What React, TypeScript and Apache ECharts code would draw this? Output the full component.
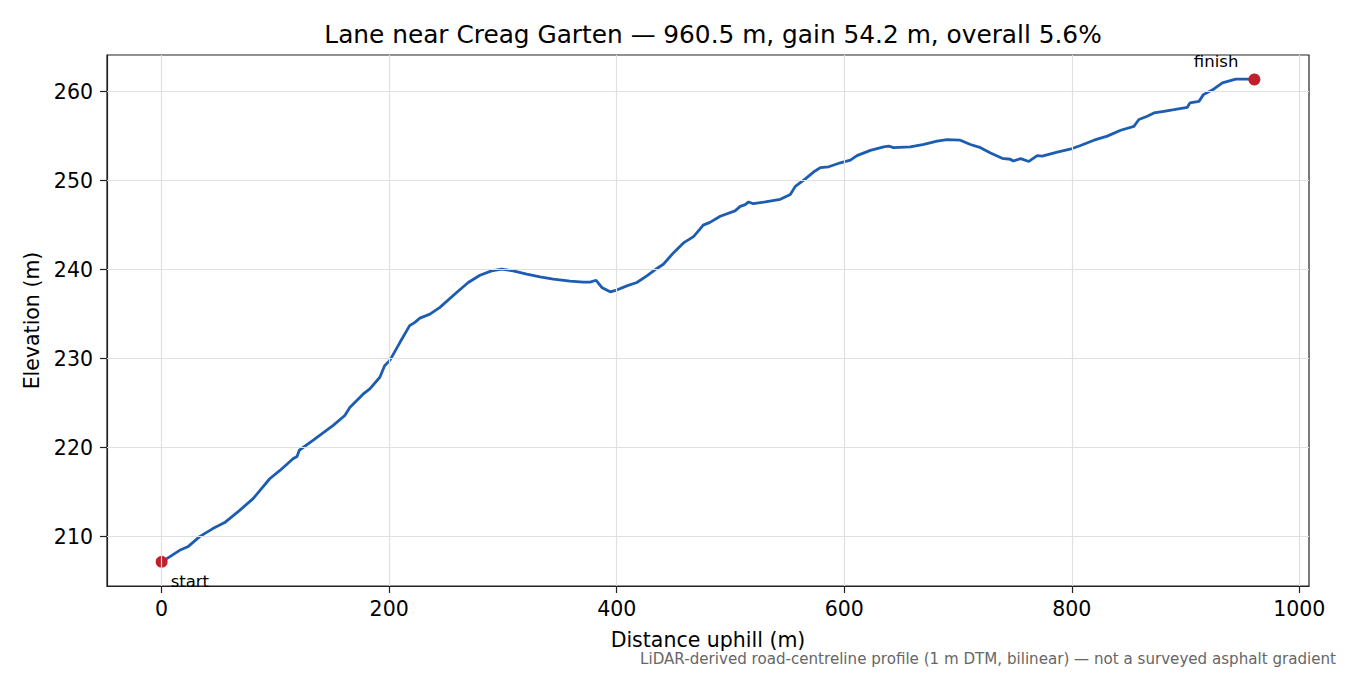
import React, { useEffect, useRef } from "react";
import * as echarts from "echarts";

const distances = [
  0, 8, 15.8, 23, 33.4, 45, 55.4, 68.6, 80.4, 95, 104, 115.5, 119, 121, 133, 150.8, 161, 165.4, 177, 183,
  191.8, 196, 200.6, 209.4, 218, 222.6, 227, 235.8, 244.6, 259.3, 269.5, 279.8, 290, 298.9, 309, 320.9,
  332.6, 344.3, 359, 370.7, 376.6, 381.9, 386.9, 394.2, 400, 408.9, 417.7, 426.5, 435, 441, 450, 458.7,
  467.5, 472.8, 476, 482, 491, 504, 508.6, 513, 516, 520, 530.6, 543.8, 552.6, 557, 565.8, 573, 579,
  586.3, 596.6, 605.4, 611.2, 623, 634.7, 639, 643.5, 658, 670, 681.6, 690.4, 702, 710.9, 719.8, 728.6,
  738.8, 746, 748.5, 755, 762.3, 769.6, 774, 787.2, 800.4, 807.7, 819.5, 831.2, 843, 854.6, 859, 866.4,
  872.2, 881, 889.8, 901.6, 903.9, 911.8, 915.7, 925, 932.4, 944.1, 954.4, 960.5,
];

const elevations = [
  207.16, 207.8, 208.46, 208.85, 210.0, 210.9, 211.57, 212.95, 214.26, 216.5, 217.43, 218.74, 219.0, 219.7,
  220.8, 222.5, 223.6, 224.5, 226.0, 226.6, 227.9, 229.2, 229.8, 231.8, 233.7, 234.07, 234.55, 235.0,
  235.75, 237.43, 238.55, 239.37, 239.86, 240.04, 239.86, 239.48, 239.18, 238.92, 238.7, 238.6, 238.6,
  238.8, 238.0, 237.5, 237.7, 238.17, 238.55, 239.3, 240.1, 240.6, 241.9, 243.0, 243.7, 244.5, 245.0,
  245.3, 246.0, 246.6, 247.1, 247.3, 247.6, 247.4, 247.6, 247.9, 248.45, 249.35, 250.2, 250.96, 251.45,
  251.55, 252.0, 252.3, 252.8, 253.4, 253.8, 253.87, 253.7, 253.8, 254.06, 254.43, 254.6, 254.54, 254.06,
  253.7, 253.1, 252.5, 252.4, 252.2, 252.46, 252.15, 252.8, 252.75, 253.2, 253.6, 253.95, 254.54, 255.0,
  255.66, 256.1, 256.86, 257.23, 257.6, 257.79, 257.98, 258.24, 258.73, 258.9, 259.66, 260.3, 260.97,
  261.4, 261.4, 261.36,
];

const xTicks = [0, 200, 400, 600, 800, 1000];
const yTicks = [210, 220, 230, 240, 250, 260];

const titleText = "Lane near Creag Garten — 960.5 m, gain 54.2 m, overall 5.6%";
const footnote = "LiDAR-derived road-centreline profile (1 m DTM, bilinear) — not a surveyed asphalt gradient";

const FONT = "DejaVu Sans";

export default function App() {
  const ref = useRef<HTMLDivElement>(null);

  useEffect(() => {
    document.body.style.margin = "0";
    const chart = echarts.init(ref.current!, null, { renderer: "svg" });
    const n = distances.length;
    const xMin = distances[0], xMax = distances[n - 1];
    const eMin = Math.min(...elevations), eMax = Math.max(...elevations);
    const xPad = (xMax - xMin) * 0.05;
    const yPad = (eMax - eMin) * 0.05;
    const lineData = distances.map((d, i) => [d, elevations[i]]);

    chart.setOption({
      animation: false,
      backgroundColor: "#ffffff",
      textStyle: { fontFamily: FONT },
      title: {
        text: titleText,
        left: 708,
        textAlign: "center",
        top: 17,
        textStyle: { fontFamily: FONT, fontSize: 24.8, fontWeight: "normal", color: "#000" },
      },
      grid: {
        left: 107,
        right: 41,
        top: 55,
        bottom: 89,
        show: true,
        borderColor: "#222",
        borderWidth: 1.2,
        backgroundColor: "transparent",
      },
      xAxis: {
        type: "value",
        min: xMin - xPad,
        max: xMax + xPad,
        name: "Distance uphill (m)",
        nameLocation: "middle",
        nameGap: 43,
        nameTextStyle: { fontFamily: FONT, fontSize: 20.5, color: "#000" },
        axisLine: { show: true, onZero: false, lineStyle: { color: "#222", width: 1.2 } },
        axisTick: { show: true, length: 7, customValues: xTicks, lineStyle: { color: "#222", width: 1.2 } },
        axisLabel: {
          customValues: xTicks,
          margin: 12,
          fontFamily: FONT,
          fontSize: 20.5,
          color: "#000",
          formatter: (v: number) => String(v),
        },
        splitLine: { show: false },
      },
      yAxis: {
        type: "value",
        min: eMin - yPad,
        max: eMax + yPad,
        name: "Elevation (m)",
        nameLocation: "middle",
        nameGap: 62,
        nameRotate: 90,
        nameTextStyle: { fontFamily: FONT, fontSize: 20.5, color: "#000" },
        axisLine: { show: true, onZero: false, lineStyle: { color: "#222", width: 1.2 } },
        axisTick: { show: true, length: 7, customValues: yTicks, lineStyle: { color: "#222", width: 1.2 } },
        axisLabel: {
          customValues: yTicks,
          margin: 14,
          fontFamily: FONT,
          fontSize: 20.5,
          color: "#000",
          formatter: (v: number) => String(v),
        },
        splitLine: { show: false },
      },
      graphic: [
        {
          type: "text",
          right: 14,
          top: 651,
          style: { text: footnote, fontFamily: FONT, fontSize: 15.1, fill: "#666666" },
        },
      ],
      series: [
        {
          type: "line",
          name: "grid",
          data: [],
          silent: true,
          markLine: {
            silent: true,
            symbol: "none",
            label: { show: false },
            lineStyle: { color: "#e0e0e0", width: 1.2, type: "solid" },
            data: [
              ...xTicks.map((v) => ({ xAxis: v })),
              ...yTicks.map((v) => ({ yAxis: v })),
            ],
          },
          z: 0,
        },
        {
          type: "line",
          data: lineData,
          showSymbol: false,
          symbol: "none",
          lineStyle: { color: "#1c5db2", width: 2.8 },
          z: 3,
        },
        {
          type: "scatter",
          symbol: "circle",
          symbolSize: 12,
          itemStyle: { color: "#c11f2c", opacity: 1 },
          z: 4,
          data: [
            {
              value: [distances[0], elevations[0]],
              label: {
                show: true,
                formatter: "start",
                position: [15, 26],
                align: "left",
                verticalAlign: "middle",
                fontFamily: FONT,
                fontSize: 16.5,
                color: "#000",
                opacity: 1,
              },
            },
            {
              value: [distances[n - 1], elevations[n - 1]],
              label: {
                show: true,
                formatter: "finish",
                position: [-10, -12],
                align: "right",
                verticalAlign: "middle",
                fontFamily: FONT,
                fontSize: 16.5,
                color: "#000",
                opacity: 1,
              },
            },
          ],
        },
      ],
    });
    return () => chart.dispose();
  }, []);

  return (
    <div
      ref={ref}
      style={{ position: "absolute", left: 0, top: 0, width: 1350, height: 675, background: "#fff" }}
    />
  );
}
